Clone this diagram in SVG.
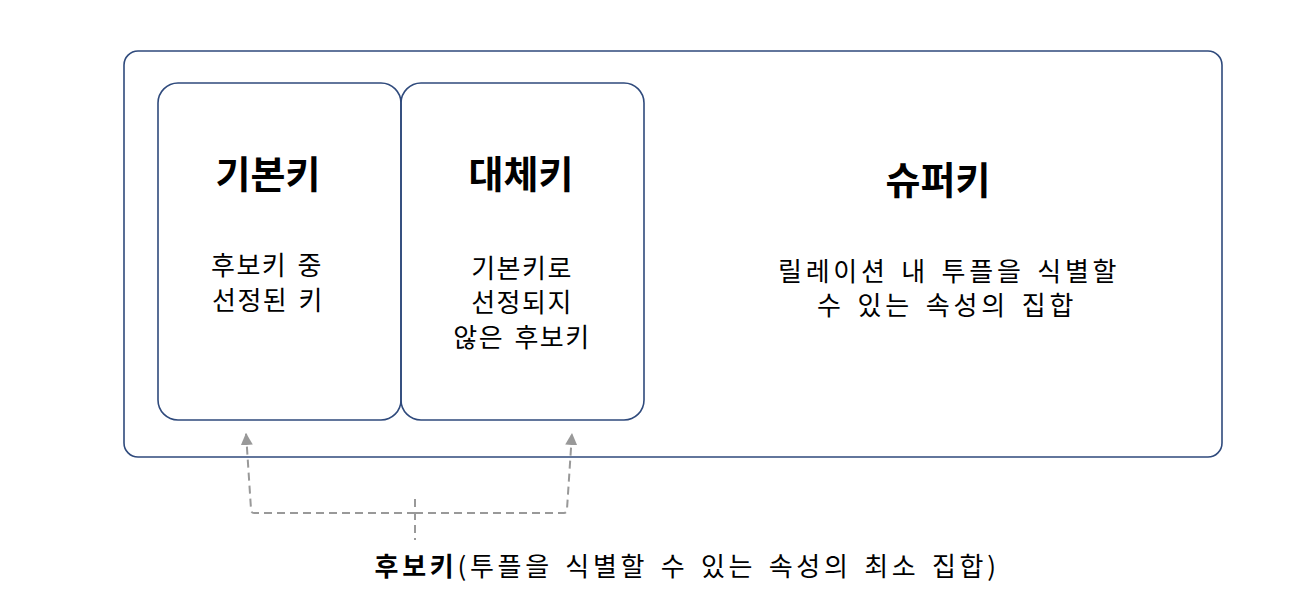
<svg xmlns="http://www.w3.org/2000/svg" width="1294" height="616" viewBox="0 0 1294 616">
<style>
.box{fill:none;stroke:#2F4A7C;stroke-width:1.6}
.t{font-family:"Noto Sans CJK KR","Noto Sans",sans-serif;fill:#000;text-anchor:middle}
.h{font-size:38px;font-weight:bold}
.b{font-size:26px;letter-spacing:1.5px;word-spacing:3px}
.c{fill:none;stroke:#999;stroke-width:2;stroke-dasharray:8,5}
</style>
<defs>
<marker id="ah" markerWidth="12" markerHeight="12" refX="12" refY="6" orient="auto" markerUnits="userSpaceOnUse" viewBox="0 0 12 12">
<path d="M0,0 L12,6 L0,12 z" fill="#999"/>
</marker>
</defs>
<rect width="1294" height="616" fill="#fff"/>
<g id="superkey">
<rect class="box" x="124" y="51" width="1098" height="406" rx="14"/>
<text class="t h" x="938" y="194">슈퍼키</text>
<text class="t b" x="948" y="281" textLength="340" lengthAdjust="spacing">릴레이션 내 투플을 식별할</text>
<text class="t b" x="946" y="315" textLength="258" lengthAdjust="spacing">수 있는 속성의 집합</text>
</g>
<g id="primarykey">
<rect class="box" x="158" y="83" width="243" height="337" rx="20"/>
<text class="t h" x="268" y="188">기본키</text>
<text class="t b" x="267" y="275">후보키 중</text>
<text class="t b" x="268" y="310">선정된 키</text>
</g>
<g id="alternatekey">
<rect class="box" x="401" y="83" width="243" height="337" rx="20"/>
<text class="t h" x="521" y="188">대체키</text>
<text class="t b" x="522" y="278">기본키로</text>
<text class="t b" x="522" y="312">선정되지</text>
<text class="t b" x="522" y="347">않은 후보키</text>
</g>
<g id="connectors">
<path class="c" d="M415,499 L415,540"/>
<path class="c" d="M415,513 L254,513 Q251,513 251,509 L246,433" marker-end="url(#ah)"/>
<path class="c" d="M415,513 L564,513 Q567,513 567,509 L572,433" marker-end="url(#ah)"/>
</g>
<g id="candidatekey">
<text class="t b" x="686" y="576" textLength="623" lengthAdjust="spacing"><tspan font-weight="bold">후보키</tspan>(투플을 식별할 수 있는 속성의 최소 집합)</text>
</g>
</svg>
